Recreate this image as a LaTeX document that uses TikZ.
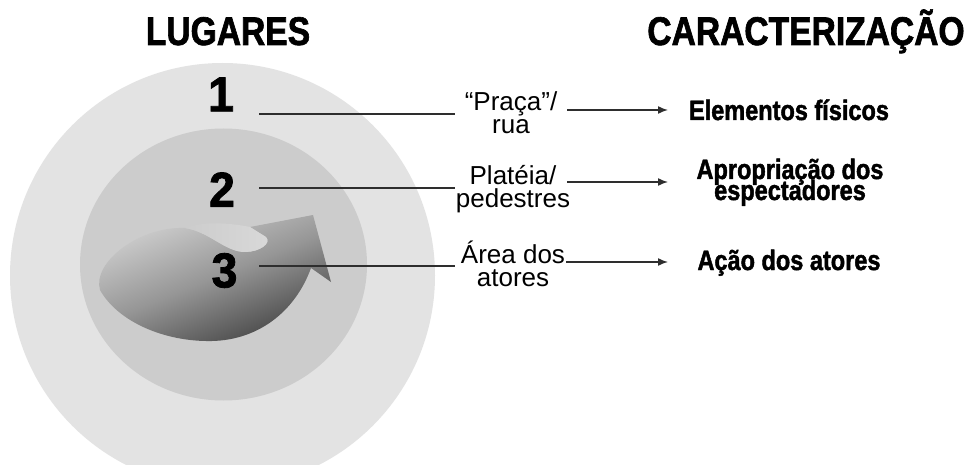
\documentclass[tikz,border=0pt]{standalone}
\usepackage{fontspec}
\setmainfont{Liberation Sans}
\newfontfamily\condb[FakeStretch=0.84,FakeBold=1.6]{Liberation Sans Bold}
\newfontfamily\digb[FakeStretch=0.95,FakeBold=1.6]{Liberation Sans Bold}
\usetikzlibrary{arrows.meta}
\newcommand\tightlines{\setlength{\lineskiplimit}{-50pt}}
\definecolor{outerc}{HTML}{E3E3E3}
\definecolor{midc}{HTML}{CCCCCC}
\definecolor{notchc}{HTML}{D9D9D9}
\definecolor{swlight}{HTML}{D2D2D2}
\definecolor{swmid}{HTML}{969696}
\definecolor{swdark}{HTML}{444444}
\definecolor{inkc}{HTML}{2E2E2E}
\begin{document}
\begin{tikzpicture}[x=1pt,y=-1pt,
  title/.style={font=\condb\fontsize{40}{40}\selectfont, inner sep=0, anchor=base},
  num/.style={font=\digb\fontsize{49}{49}\selectfont, inner sep=0},
  lab/.style={font=\fontsize{26}{23}\selectfont\tightlines, align=center, inner sep=0, anchor=base},
  feat/.style={font=\condb\fontsize{28}{21}\selectfont\tightlines, align=center, inner sep=0, anchor=base},
  lead/.style={draw=inkc, line width=1.6pt},
  conn/.style={draw=inkc, line width=1.5pt, -{Latex[length=10pt,width=8pt]}},
]
\useasboundingbox (0,0) rectangle (972,465);
\fill[white] (0,0) rectangle (972,465);
\begin{scope}
  \clip (0,0) rectangle (972,465);
  \fill[outerc] (222.5,275.5) circle [radius=212.5];
\end{scope}
\fill[midc] (223.5,264.5) ellipse [x radius=143.5, y radius=136];
% swirl arrow
\shade[top color=swlight, bottom color=swdark, middle color=swmid, shading angle=22]
  (250,227) -- (313,215) -- (331,282) -- (311,268)
  .. controls (295,312) and (258,340) .. (212,341)
  .. controls (165,342) and (118,322) .. (100,290)
  .. controls (92,262) and (140,226) .. (185,228)
  .. controls (210,232) and (225,252) .. (245,252)
  .. controls (260,252) and (272,243) .. (266,237) -- cycle;
\shade[left color=midc, right color=notchc]
  (185,228) .. controls (210,232) and (225,252) .. (245,252)
  .. controls (260,252) and (272,243) .. (266,237) -- (250,227)
  .. controls (225,222) and (200,222) .. (185,228) -- cycle;
% titles
\node[title] (tl) at (228,45) {LUGARES};
\node[title] (tr) at (806,45) {CARACTERIZAÇÃO};
% numbers
\node[num] (n1) at (221,94.5) {1};
\node[num] (n2) at (222,189.5) {2};
\node[num] (n3) at (224.5,270.5) {3};
% leader lines
\coordinate (l1a) at (259,114); \coordinate (l1b) at (455,114);
\coordinate (l2a) at (259,188); \coordinate (l2b) at (455,188);
\coordinate (l3a) at (259,266); \coordinate (l3b) at (455,266);
\draw[lead] (l1a) -- (l1b);
\draw[lead] (l2a) -- (l2b);
\draw[lead] (l3a) -- (l3b);
% middle labels (anchor = baseline of last line)
\node[lab] (m1) at (511,134) {“Praça”/\\rua};
\node[lab] (m2) at (513,208) {Platéia/\\pedestres};
\node[lab] (m3) at (513,287) {Área dos\\atores};
% feature labels
\node[feat] (f1) at (789,120) {Elementos físicos};
\node[feat] (f2) at (790,200) {Apropriação dos\\espectadores};
\node[feat] (f3) at (789,270) {Ação dos atores};
% arrows
\coordinate (a1a) at (567,110); \coordinate (a1b) at (668,110);
\coordinate (a2a) at (567,182); \coordinate (a2b) at (668,182);
\coordinate (a3a) at (566,262); \coordinate (a3b) at (668,262);
\draw[conn] (a1a) -- (a1b);
\draw[conn] (a2a) -- (a2b);
\draw[conn] (a3a) -- (a3b);
\end{tikzpicture}
\end{document}
